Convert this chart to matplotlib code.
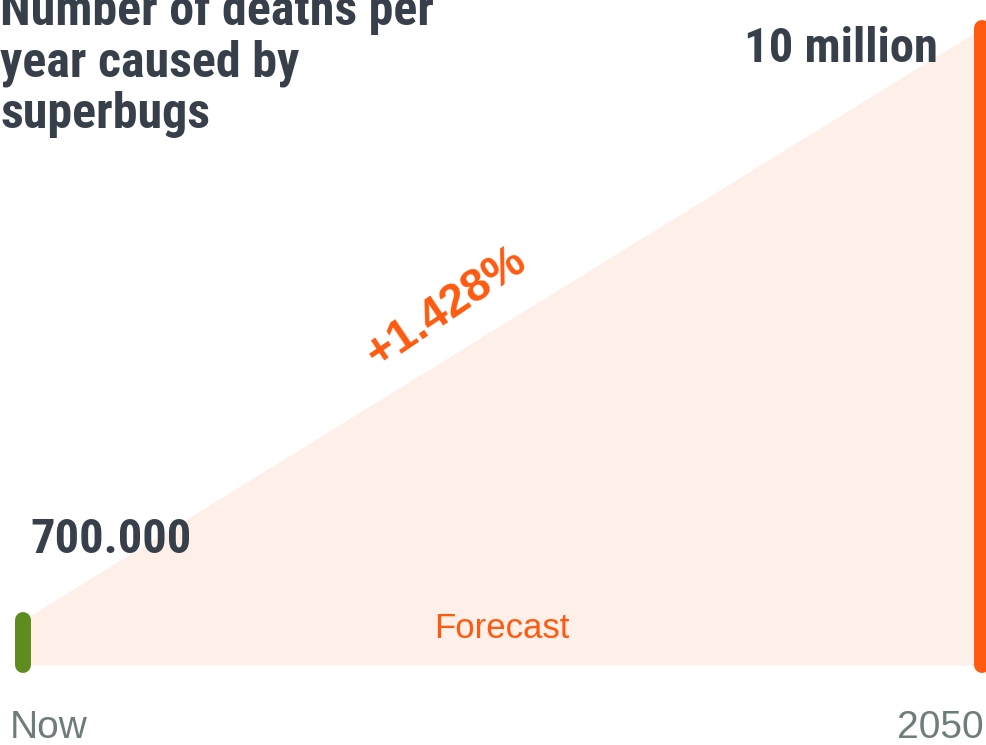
import matplotlib
matplotlib.use("Agg")
import matplotlib.pyplot as plt

# data
periods = ["Now", "2050"]
positions = [0, 1]
deaths = [700000, 10000000]
value_labels = ["700.000", "10 million"]
growth_label = "+1.428%"
title = "Number of deaths per\nyear caused by\nsuperbugs"

DARK = "#37404a"
ORANGE = "#ff5a0f"
GREEN = "#5f8c1f"
FILL = "#fef0e8"
GREY = "#6f7c7c"

narrow = ["Roboto Condensed", "Roboto", "DejaVu Sans"]
sans = ["Liberation Sans", "DejaVu Sans"]

fig = plt.figure(figsize=(9.86, 7.45), dpi=100)
ax = fig.add_axes([0, 0, 1, 1])
ax.set_xlim(-0.02345, 1.00417)
ax.set_ylim(-1.2559e6, 10.4396e6)
ax.axis("off")

# forecast area
ax.fill_between(positions, [0, 0], deaths, color=FILL, lw=0, zorder=1)

# bars as thick rounded lines
ax.plot([positions[0]] * 2, [0, deaths[0]], color=GREEN, lw=11.5,
        solid_capstyle="round", zorder=3)
ax.plot([positions[1]] * 2, [0, deaths[1]], color=ORANGE, lw=11.5,
        solid_capstyle="round", zorder=3)

# value labels
ax.text(positions[0] + 0.008, deaths[0] + 1.058e6, value_labels[0], color=DARK,
        fontsize=35, fontweight="bold", family=narrow, ha="left", va="baseline")
ax.text(positions[1] - 0.0459, deaths[1] - 0.534e6, value_labels[1], color=DARK,
        fontsize=35, fontweight="bold", family=narrow, ha="right", va="baseline")

ax.text(0.442, 5.6e6, growth_label, color=ORANGE, fontsize=33, fontweight="bold",
        family=sans, rotation=34, ha="center", va="center", rotation_mode="anchor")
ax.text(0.5, 0.58e6, "Forecast", color=ORANGE, fontsize=25,
        family=sans, ha="center", va="center")

# x labels
ax.text(-0.0135, -1.146e6, periods[0], color=GREY, fontsize=28, family=sans,
        ha="left", va="baseline")
ax.text(1.0015, -1.146e6, periods[1], color=GREY, fontsize=28, family=sans,
        ha="right", va="baseline")

# title
fig.text(0.0, 1 - 128 / 745, title, color=DARK, fontsize=36, fontweight="bold",
         family=narrow, ha="left", va="baseline", linespacing=1.12)

fig.savefig("out.png", dpi=100)
